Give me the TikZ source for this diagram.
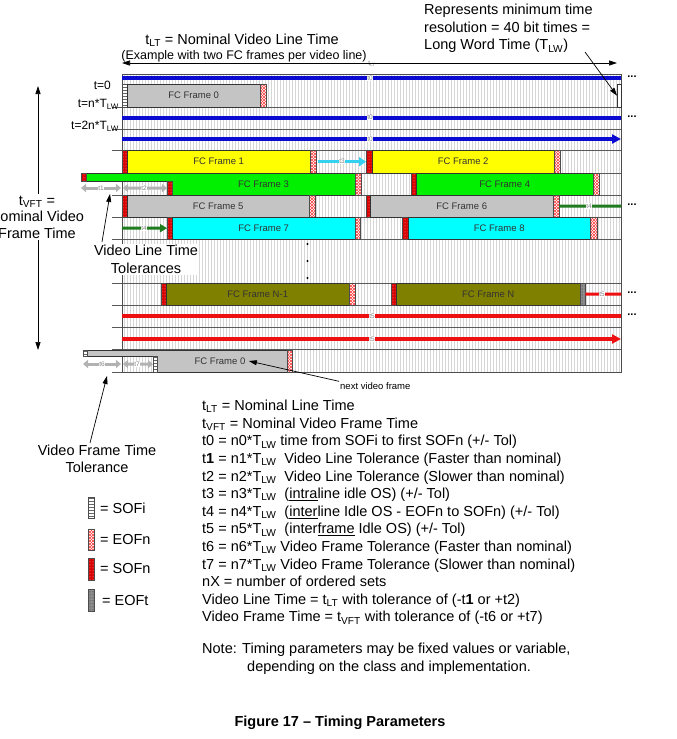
\documentclass[tikz,border=0pt]{standalone}
\usepackage{fontspec}
\setmainfont{Liberation Sans}
\usetikzlibrary{
	arrows.meta,
	patterns,
	positioning
	}
\definecolor{jaune}{HTML}{FFFF00}
\definecolor{vert}{HTML}{00F000}
\definecolor{gris}{HTML}{C4C4C4}
\definecolor{cyan2}{HTML}{00FFFF}
\definecolor{olive2}{HTML}{808000}
\definecolor{bleu}{HTML}{0A0AD2}
\definecolor{rouge}{HTML}{EE1010}
\definecolor{vertfonce}{HTML}{1E7B1E}
\definecolor{turquoise}{HTML}{33D0F0}
\tikzstyle{titre-trame}=[font={\fontsize{9.5pt}{11}\selectfont},text=black!80]
\tikzstyle{trame-std}=[titre-trame,draw=black!80,inner sep=0pt,anchor=north west]
\tikzstyle{marque-std}=[draw=black!70,inner sep=0pt,anchor=north west]
\tikzstyle{sofi-std}=[marque-std,preaction={fill=white},pattern=horizontal lines,pattern color=black!60]
\tikzstyle{eofn-std}=[marque-std,preaction={fill=white},preaction={pattern=north east lines,pattern color=red!75},pattern=north west lines,pattern color=red!75]
\tikzstyle{sofn-std}=[marque-std,preaction={fill=red!85!black},pattern=dots,pattern color=red!30!white]
\tikzstyle{eoft-std}=[marque-std,preaction={fill=black!45},pattern=dots,pattern color=black!85]
\tikzstyle{etiq-std}=[fill=white,inner sep=0.6pt,font={\fontsize{6.5pt}{7}\selectfont},text=black!50]
\tikzstyle{texte-std}=[font={\fontsize{14.5pt}{17.6pt}\selectfont}]
\tikzstyle{lab-std}=[font={\fontsize{12pt}{14}\selectfont},inner sep=0pt]
\tikzstyle{points-std}=[font={\fontsize{11pt}{12}\selectfont\bfseries},inner sep=0pt]
\tikzstyle{hachure-std}=[gray!32,line width=0.4pt]
\tikzstyle{rangee-std}=[black!65,line width=0.6pt]
\tikzstyle{ligne-bleue}=[line width=4pt,bleu]
\tikzstyle{ligne-rouge}=[line width=4pt,rouge]
\tikzstyle{ligne-verte}=[line width=3pt,vertfonce]
\tikzstyle{tol-std}=[line width=3pt,gray!60,{Triangle[length=5pt,width=8pt]}-{Triangle[length=5pt,width=8pt]}]
\tikzstyle{fleche-std}=[line width=0.7pt,->]
\newcommand{\Tlw}{T\textsubscript{LW}}
% nom, couleur, gauche, droite, haut, bas, texte
\newcommand{\trame}[7]{\node[trame-std,fill=#2,minimum width={#4-#3},minimum height={#6-#5}] (#1) at (#3,#5) {#7};}
% nom, style, gauche, droite, haut, bas
\newcommand{\marque}[6]{\node[#2,minimum width={#4-#3},minimum height={#6-#5}] (#1) at (#3,#5) {};}

\begin{document}
\begin{tikzpicture}[x=1pt,y=-1pt,>={Triangle[length=8pt,width=5pt]}]
\useasboundingbox (0,0) rectangle (677,739);
% grille de temps
\foreach \x in {124,127,...,619}
	\draw[hachure-std] (\x,74) -- (\x,372);
\foreach \y in {107,129,150,173,195,217,239,283,305,327,349,372}
	\draw[rangee-std] (112,\y) -- (621,\y);
\node[draw=black!70,line width=0.8pt,inner sep=0pt,anchor=north west,minimum width=499,minimum height=298] (grille) at (122,74) {};

% lignes t0
\draw[ligne-bleue] (122,78) -- (621,78);
\node[etiq-std] (t0-a) at (370,78) {t0};
\node[points-std] (pts-a) at (632,77) {...};
\draw[ligne-bleue] (122,117.5) -- (621,117.5);
\node[etiq-std] (t0-b) at (370,117.5) {t0};
\node[points-std] (pts-b) at (632,116.5) {...};
\draw[ligne-bleue,-{Triangle[length=9pt,width=9pt]}] (122,139) -- (621,139);
\node[etiq-std] (t0-c) at (370,139) {t0};

% trame 0
\marque{sofi-0}{sofi-std}{122}{127}{84}{107}
\trame{f0}{gris}{127}{260}{84}{107}{FC Frame 0}
\marque{eofn-0}{eofn-std}{260}{266}{84}{107}
\node[draw=black!80,fill=white,inner sep=0pt,anchor=north west,minimum width=4,minimum height=23] (minres) at (617,84) {};

% trames 1 et 2
\marque{s1}{sofn-std}{122}{127}{150}{173}
\trame{f1}{jaune}{127}{310}{150}{173}{FC Frame 1}
\marque{e1}{eofn-std}{310}{316}{150}{173}
\marque{s2}{sofn-std}{366}{372}{150}{173}
\trame{f2}{jaune}{372}{554}{150}{173}{FC Frame 2}
\marque{e2}{eofn-std}{554}{560}{150}{173}
\draw[line width=3.5pt,turquoise,-{Triangle[length=7pt,width=9pt]}] ([xshift=2pt]e1.east) -- (s2.west);
\node[etiq-std] (t3) at (342,161.5) {t3};

% trames 3 et 4
\fill[vert,draw=black!80] (86,173) -- (355,173) -- (355,195) -- (172,195) -- (172,181) -- (86,181) -- cycle;
\marque{s3a}{sofn-std}{81}{86}{173}{181}
\marque{s3b}{sofn-std}{167}{172}{181}{195}
\node[titre-trame] (f3) at (263.5,184) {FC Frame 3};
\marque{e3}{eofn-std}{355}{361}{173}{195}
\marque{s4}{sofn-std}{411}{416}{173}{195}
\trame{f4}{vert}{416}{593}{173}{195}{FC Frame 4}
\marque{e4}{eofn-std}{593}{599}{173}{195}
\coordinate (tol1) at (81,188);
\coordinate (tol2) at (122,188);
\draw[tol-std,shorten >=1pt] (tol1) -- (tol2);
\draw[tol-std,shorten <=1pt] (tol2) -- (s3b.west);
\node[etiq-std] (t1) at (101,188) {t1};
\node[etiq-std] (t2) at (144,188) {t2};

% trames 5 et 6
\marque{s5}{sofn-std}{122}{127}{195}{217}
\trame{f5}{gris}{127}{309}{195}{217}{FC Frame 5}
\marque{e5}{eofn-std}{309}{315}{195}{217}
\marque{s6}{sofn-std}{366}{370}{195}{217}
\trame{f6}{gris}{370}{553}{195}{217}{FC Frame 6}
\marque{e6}{eofn-std}{553}{559}{195}{217}
\coordinate (fin-t4) at (621,206);
\draw[ligne-verte] (e6.east) -- (fin-t4);
\node[etiq-std] (t4-b) at (589,206) {t4};
\node[points-std] (pts-c) at (632,205) {...};

% trames 7 et 8
\coordinate (deb-t4) at (122,228);
\marque{s7}{sofn-std}{167}{172}{217}{239}
\draw[ligne-verte,-{Triangle[length=7pt,width=8pt]}] (deb-t4) -- (s7.west);
\node[etiq-std] (t4-a) at (144,228) {t4};
\trame{f7}{cyan2}{172}{355}{217}{239}{FC Frame 7}
\marque{e7}{eofn-std}{355}{360}{217}{239}
\marque{s8}{sofn-std}{402}{408}{217}{239}
\trame{f8}{cyan2}{408}{590}{217}{239}{FC Frame 8}
\marque{e8}{eofn-std}{590}{597}{217}{239}

\foreach \y in {244,261,278}
	\fill (307.5,\y) circle (1.2);

% trames N-1 et N
\marque{sN1}{sofn-std}{161}{166}{283}{305}
\trame{fN1}{olive2}{166}{349}{283}{305}{FC Frame N-1}
\marque{eN1}{eofn-std}{349}{355}{283}{305}
\marque{sN}{sofn-std}{391}{396}{283}{305}
\trame{fN}{olive2}{396}{580}{283}{305}{FC Frame N}
\marque{eoft}{eoft-std}{580}{585}{283}{305}
\coordinate (fin-t5) at (621,294);
\draw[ligne-rouge,line width=3pt] (eoft.east) -- (fin-t5);
\node[etiq-std] (t5-a) at (602,294) {t5};
\node[points-std] (pts-d) at (632,293) {...};

% lignes t5
\draw[ligne-rouge] (122,316) -- (621,316);
\node[etiq-std] (t5-b) at (372,316) {t5};
\node[points-std] (pts-e) at (632,315) {...};
\draw[ligne-rouge,-{Triangle[length=9pt,width=9pt]}] (122,339) -- (621,339);
\node[etiq-std] (t5-c) at (372,339) {t5};

% trame video suivante
\fill[gris,draw=black!80] (87,350) -- (287,350) -- (287,372) -- (157,372) -- (157,356) -- (87,356) -- cycle;
\marque{sofi-n1}{sofi-std}{83}{87}{350}{356}
\marque{sofi-n2}{sofi-std}{153}{157}{356}{372}
\node[titre-trame] (f0-suiv) at (220,361) {FC Frame 0};
\marque{eofn-n}{eofn-std}{287}{292}{350}{372}
\coordinate (tol6) at (83,364);
\coordinate (tol7) at (122,364);
\draw[tol-std,shorten >=1pt] (tol6) -- (tol7);
\draw[tol-std,shorten <=1pt] (tol7) -- (sofi-n2.west);
\node[etiq-std] (t6) at (102,364) {t6};
\node[etiq-std] (t7) at (137,364) {t7};

% textes du haut
\node[texte-std] (titre) at (242,40) {t\textsubscript{LT} = Nominal Video Line Time};
\node[font={\fontsize{12.5pt}{14}\selectfont},inner sep=0pt] (exemple) at (244,56) {(Example with two FC frames per video line)};
\node[etiq-std,fill=none] (lt-etiq) at (372,64) {t\textsubscript{LT}};
\coordinate (lt-g) at (122,63);
\coordinate (lt-d) at (617,63);
\draw[fleche-std,<->] (lt-g) -- (lt-d);
\node[texte-std,anchor=north west,align=left,inner sep=0pt] (repres) at (424,4) {Represents minimum time\\resolution = 40 bit times =\\Long Word Time (\Tlw)};
\coordinate (repres-pied) at (585,52);
\draw[fleche-std] (repres-pied) -- (minres.west);

% textes de gauche
\node[lab-std,anchor=east] (t-0) at (111,85) {t=0};
\node[lab-std,anchor=east] (t-n) at (119,104) {t=n*\Tlw};
\node[lab-std,anchor=east] (t-2n) at (119,126) {t=2n*\Tlw};
\coordinate (vft-haut) at (38,86);
\coordinate (vft-bas) at (38,350);
\draw[fleche-std,<->] (vft-haut) -- (vft-bas);
\node[texte-std,fill=white,align=center,inner sep=2pt,font={\fontsize{14.5pt}{16.5pt}\selectfont}] (tvft) at (37,217) {t\textsubscript{VFT} =\\Nominal Video\\Frame Time};
\node[texte-std,fill=white,align=center,inner sep=1pt] (vlt) at (146,259.5) {Video Line Time\\Tolerances};
\coordinate (vlt-pied) at (102,242);
\coordinate (vlt-cible) at (110,194);
\draw[fleche-std] (vlt-pied) -- (vlt-cible);
\node[texte-std,align=center] (vftt) at (97,459) {Video Frame Time\\Tolerance};
\coordinate (vftt-pied) at (90,443);
\coordinate (vftt-cible) at (107,376);
\draw[fleche-std] (vftt-pied) -- (vftt-cible);
\node[font={\fontsize{9.5pt}{11}\selectfont},anchor=west,inner sep=1pt] (suiv) at (339,386) {next video frame};
\draw[fleche-std] (suiv.north west) -- (f0-suiv.east);

% legende
\marque{leg-sofi}{sofi-std}{88}{94}{497}{518}
\node[texte-std,anchor=west,inner sep=0pt] (leg-sofi-t) at (100,508) {= SOFi};
\marque{leg-eofn}{eofn-std}{88}{94}{529}{550}
\node[texte-std,anchor=west,inner sep=0pt] (leg-eofn-t) at (100,540) {= EOFn};
\marque{leg-sofn}{sofn-std}{88}{94}{558}{580}
\node[texte-std,anchor=west,inner sep=0pt] (leg-sofn-t) at (100,569) {= SOFn};
\marque{leg-eoft}{eoft-std}{88}{94}{589}{611}
\node[texte-std,anchor=west,inner sep=0pt] (leg-eoft-t) at (102,601) {= EOFt};

% definitions
\node[texte-std,anchor=north west,align=left,inner sep=0pt] (defs) at (202,400) {t\textsubscript{LT} = Nominal Line Time\\
t\textsubscript{VFT} = Nominal Video Frame Time\\
t0 = n0*\Tlw{} time from SOFi to first SOFn (+/- Tol)\\
t\textbf{1} = n1*\Tlw\ \ Video Line Tolerance (Faster than nominal)\\
t2 = n2*\Tlw\ \ Video Line Tolerance (Slower than nominal)\\
t3 = n3*\Tlw\ \ (\underline{intra}line idle OS) (+/- Tol)\\
t4 = n4*\Tlw\ \ (\underline{inter}line Idle OS - EOFn to SOFn) (+/- Tol)\\
t5 = n5*\Tlw\ \ (inter\underline{frame} Idle OS) (+/- Tol)\\
t6 = n6*\Tlw{} Video Frame Tolerance (Faster than nominal)\\
t7 = n7*\Tlw{} Video Frame Tolerance (Slower than nominal)\\
nX = number of ordered sets\\
Video Line Time = t\textsubscript{LT} with tolerance of (-t\textbf{1} or +t2)\\
Video Frame Time = t\textsubscript{VFT} with tolerance of (-t6 or +t7)};
\node[texte-std,anchor=north west,align=left,inner sep=0pt] (note) at (202,643) {Note: Timing parameters may be fixed values or variable,\\
\hspace*{45pt}depending on the class and implementation.};
\node[font={\fontsize{14.5pt}{16}\selectfont\bfseries}] (legende) at (340,723) {Figure 17 – Timing Parameters};
\end{tikzpicture}
\end{document}
